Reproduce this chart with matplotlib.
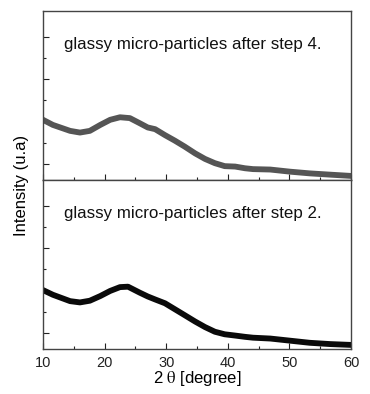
import numpy as np
import matplotlib.pyplot as plt

plt.rcParams['font.family'] = ['Liberation Sans', 'DejaVu Sans']
plt.rcParams['mathtext.fontset'] = 'stix'

# 2 theta (degree)
theta4 = [10.0, 11.6, 14.4, 16.0, 17.6, 19.3, 20.9, 22.5, 24.1, 25.7, 27.0,
          28.2, 29.8, 31.4, 33.0, 34.7, 36.3, 37.9, 39.5, 41.2, 42.8, 44.1,
          46.9, 50.1, 53.3, 56.6, 60.0]
inten4 = [1.04, 0.92, 0.78, 0.74, 0.78, 0.92, 1.04, 1.10, 1.08, 0.96, 0.86,
          0.82, 0.68, 0.55, 0.41, 0.25, 0.12, 0.02, -0.05, -0.06, -0.10, -0.12,
          -0.13, -0.18, -0.22, -0.25, -0.28]

theta2 = [10.0, 11.6, 14.4, 16.0, 17.6, 19.3, 20.9, 22.5, 23.8, 25.7, 27.0,
          28.2, 29.8, 31.4, 33.0, 34.7, 36.3, 37.9, 39.5, 41.2, 42.8, 44.1,
          46.9, 50.1, 53.3, 56.6, 60.0]
inten2 = [1.01, 0.90, 0.75, 0.72, 0.76, 0.87, 0.99, 1.08, 1.09, 0.95, 0.86,
          0.79, 0.70, 0.56, 0.42, 0.27, 0.14, 0.03, -0.03, -0.06, -0.09, -0.11,
          -0.13, -0.18, -0.23, -0.26, -0.28]

labels = ['glassy micro-particles after step 4.', 'glassy micro-particles after step 2.']
colori = ['#555555', '#0a0a0a']

fig = plt.figure(figsize=(3.7, 3.94), dpi=100)
ax_top = fig.add_axes([43/370, 1-180/394, 308/370, 169/394])
ax_bot = fig.add_axes([43/370, 1-349/394, 308/370, 169/394])

for ax, x, y, lab, c in zip([ax_top, ax_bot], [theta4, theta2], [inten4, inten2], labels, colori):
    ax.plot(x, y, color=c, lw=4.2, solid_joinstyle='round')
    ax.set_xlim(10, 60)
    ax.set_ylim(-0.376, 3.6)
    ax.set_yticks([0, 1, 2, 3])
    ax.set_yticks([0.5, 1.5, 2.5], minor=True)
    ax.set_yticklabels([])
    ax.set_xticks([10, 20, 30, 40, 50, 60])
    ax.set_xticks([15, 25, 35, 45, 55], minor=True)
    ax.tick_params(which='both', direction='in', top=False, right=False, colors='#222222')
    ax.tick_params(which='major', length=4, width=0.8)
    ax.tick_params(which='minor', length=2.5, width=0.8)
    for s in ax.spines.values():
        s.set_color('#444444')
        s.set_linewidth(1.0)
    ax.text(0.068, 0.80, lab, transform=ax.transAxes, fontsize=12.2, color='#111111', va='center')

ax_top.set_xticklabels([])
ax_bot.tick_params(axis='x', labelsize=10.5, pad=5)
ax_bot.set_xlabel(r'2 $\mathrm{\theta}$ [degree]', fontsize=12, labelpad=-1)
fig.text(22/370, 1-185/394, 'Intensity (u.a)', rotation=90, fontsize=12, va='center', ha='center')

fig.savefig('out.png', dpi=100)
